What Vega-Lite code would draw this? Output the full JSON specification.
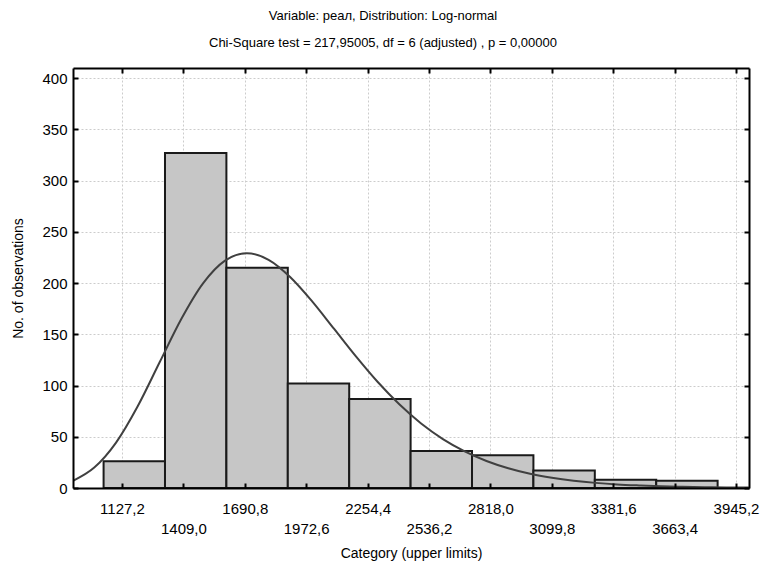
{
  "$schema": "https://vega.github.io/schema/vega-lite/v6.json",
  "width": 676,
  "height": 420,
  "autosize": "none",
  "padding": {"left": 73, "top": 68, "right": 16, "bottom": 77},
  "background": "white",
  "config": {
    "view": {"stroke": null},
    "font": "Liberation Sans"
  },
  "title": {
    "text": ["Variable: реал, Distribution: Log-normal", "Chi-Square test = 217,95005, df = 6 (adjusted) , p = 0,00000"],
    "fontSize": 13,
    "fontWeight": "normal",
    "font": "Liberation Sans",
    "color": "black",
    "lineHeight": 27,
    "offset": 17,
    "dx": -28
  },
  "datasets": {
    "bars": [
      {"start": 1042.8, "end": 1324.6, "count": 26},
      {"start": 1324.6, "end": 1606.4, "count": 327},
      {"start": 1606.4, "end": 1888.2, "count": 215},
      {"start": 1888.2, "end": 2170.0, "count": 102},
      {"start": 2170.0, "end": 2451.8, "count": 87},
      {"start": 2451.8, "end": 2733.6, "count": 36},
      {"start": 2733.6, "end": 3015.4, "count": 32},
      {"start": 3015.4, "end": 3297.2, "count": 17},
      {"start": 3297.2, "end": 3579.0, "count": 8},
      {"start": 3579.0, "end": 3860.8, "count": 7}
    ],
    "curve": [
      {"x": 902.4, "y": 7.0},
      {"x": 1000, "y": 19.9},
      {"x": 1100, "y": 44.3},
      {"x": 1200, "y": 80.0},
      {"x": 1300, "y": 122.7},
      {"x": 1400, "y": 165.2},
      {"x": 1500, "y": 200.0},
      {"x": 1600, "y": 222.0},
      {"x": 1700, "y": 229.2},
      {"x": 1800, "y": 222.8},
      {"x": 1900, "y": 205.8},
      {"x": 2000, "y": 182.2},
      {"x": 2100, "y": 155.5},
      {"x": 2200, "y": 128.7},
      {"x": 2300, "y": 103.7},
      {"x": 2400, "y": 81.7},
      {"x": 2500, "y": 63.0},
      {"x": 2600, "y": 47.8},
      {"x": 2700, "y": 35.8},
      {"x": 2800, "y": 26.4},
      {"x": 2900, "y": 19.3},
      {"x": 3000, "y": 13.9},
      {"x": 3100, "y": 10.0},
      {"x": 3200, "y": 7.1},
      {"x": 3300, "y": 5.0},
      {"x": 3400, "y": 3.5},
      {"x": 3500, "y": 2.5},
      {"x": 3600, "y": 1.7},
      {"x": 3700, "y": 1.2},
      {"x": 3800, "y": 0.8},
      {"x": 3900, "y": 0.6},
      {"x": 4004, "y": 0.4}
    ]
  },
  "layer": [
    {
      "data": {"name": "bars"},
      "mark": {"type": "rect", "fill": "#c6c6c6", "stroke": "#1a1a1a", "strokeWidth": 2},
      "encoding": {
        "x": {
          "field": "start", "type": "quantitative",
          "scale": {"domain": [902.4, 4004.8], "nice": false, "zero": false},
          "axis": {"orient": "bottom", "values": [1127.2, 1409.0, 1690.8, 1972.6, 2254.4, 2536.2, 2818.0, 3099.8, 3381.6, 3663.4, 3945.2], "grid": true, "gridColor": "#cccccc", "gridDash": [2, 2], "gridWidth": 1, "labels": false, "ticks": false, "domain": false, "title": null, "zindex": 0}
        },
        "x2": {"field": "end"},
        "y": {
          "field": "count", "type": "quantitative",
          "scale": {"domain": [0, 410], "nice": false},
          "axis": {"orient": "left", "values": [0, 50, 100, 150, 200, 250, 300, 350, 400], "grid": true, "gridColor": "#cccccc", "gridDash": [2, 2], "gridWidth": 1, "labels": false, "ticks": false, "domain": false, "title": null, "zindex": 0}
        },
        "y2": {"datum": 0}
      }
    },
    {
      "data": {"name": "curve"},
      "mark": {"type": "line", "color": "#404040", "strokeWidth": 2, "interpolate": "monotone", "clip": true},
      "encoding": {
        "x": {
          "field": "x", "type": "quantitative",
          "axis": {
            "orient": "bottom",
            "values": [1127.2, 1409.0, 1690.8, 1972.6, 2254.4, 2536.2, 2818.0, 3099.8, 3381.6, 3663.4, 3945.2],
            "labelExpr": "replace(format(datum.value, '.1f'), '.', ',')",
            "grid": false,
            "domainColor": "black", "domainWidth": 2,
            "tickColor": "black", "tickWidth": 2, "tickSize": -5,
            "labelFont": "Liberation Sans", "labelFontSize": 15, "labelColor": "black",
            "labelBaseline": "top", "labelAlign": "center", "labelFlush": false, "labelOverlap": false, "labelBound": false,
            "labelPadding": {"condition": {"test": "round((datum.value - 1127.2) / 281.8) % 2 == 1", "value": 38}, "value": 18},
            "title": "Category (upper limits)",
            "titleFont": "Liberation Sans", "titleFontSize": 14, "titleFontWeight": "normal", "titleColor": "black",
            "titlePadding": 10,
            "zindex": 1
          }
        },
        "y": {
          "field": "y", "type": "quantitative",
          "axis": {
            "orient": "left",
            "values": [0, 50, 100, 150, 200, 250, 300, 350, 400],
            "grid": false,
            "domainColor": "black", "domainWidth": 2,
            "tickColor": "black", "tickWidth": 2, "tickSize": -5,
            "labelFont": "Liberation Sans", "labelFontSize": 15, "labelColor": "black",
            "labelPadding": 11, "labelBound": false, "labelFlush": false, "labelOverlap": false,
            "title": "No. of observations",
            "titleFont": "Liberation Sans", "titleFontSize": 14, "titleFontWeight": "normal", "titleColor": "black",
            "titlePadding": 16,
            "zindex": 1
          }
        }
      }
    },
    {
      "data": {"name": "curve"},
      "mark": {"type": "point", "opacity": 0},
      "encoding": {
        "x": {
          "field": "x", "type": "quantitative",
          "axis": {
            "orient": "top",
            "values": [1127.2, 1409.0, 1690.8, 1972.6, 2254.4, 2536.2, 2818.0, 3099.8, 3381.6, 3663.4, 3945.2],
            "grid": false, "labels": false, "title": null,
            "domainColor": "black", "domainWidth": 2,
            "tickColor": "black", "tickWidth": 2, "tickSize": -5,
            "zindex": 1
          }
        },
        "y": {
          "field": "y", "type": "quantitative",
          "axis": {
            "orient": "right",
            "values": [0, 50, 100, 150, 200, 250, 300, 350, 400],
            "grid": false, "labels": false, "title": null,
            "domainColor": "black", "domainWidth": 2,
            "tickColor": "black", "tickWidth": 2, "tickSize": -5,
            "zindex": 1
          }
        }
      }
    }
  ],
  "resolve": {"axis": {"x": "independent", "y": "independent"}}
}
